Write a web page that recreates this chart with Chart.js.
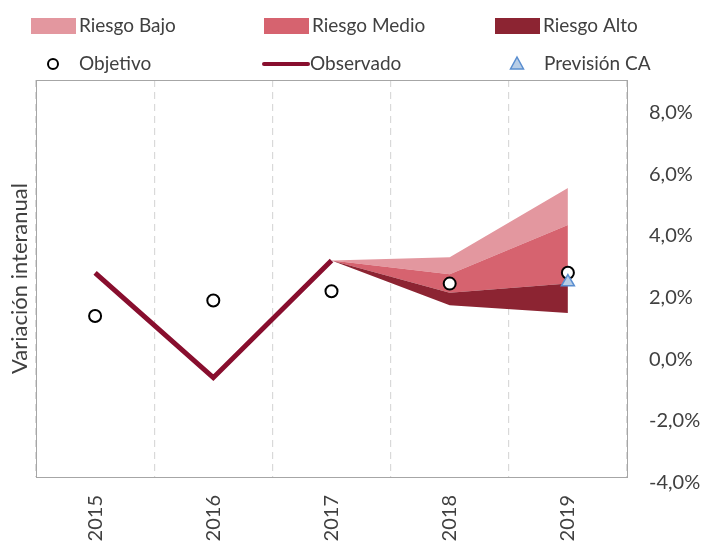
<!DOCTYPE html>
<html>
<head>
<meta charset="utf-8">
<script src="https://cdn.jsdelivr.net/npm/chart.js@4.4.1/dist/chart.umd.min.js"></script>
<style>
html,body{margin:0;padding:0;background:#fff;}
#wrap{width:706px;height:548px;position:relative;}
</style>
</head>
<body>
<div id="wrap"><canvas id="c" width="706" height="548"></canvas></div>
<script>
const years = ['2015','2016','2017','2018','2019'];
const yTicks = [-4, -2, 0, 2, 4, 6, 8];
const observado = [2.8, -0.6, 3.2, null, null];
const objetivo = [1.4, 1.9, 2.2, 2.45, 2.8];
const prevision = [null, null, null, null, 2.5];
const fanBottom = [null, null, 3.2, 1.75, 1.5];
const riesgoAltoTop = [null, null, 3.2, 2.15, 2.45];
const riesgoMedioTop = [null, null, 3.2, 2.75, 4.35];
const riesgoBajoTop = [null, null, 3.2, 3.3, 5.55];

const TXT = '#404040';
const FONT = 'Lato, "Open Sans", sans-serif';
const C_BAJO = '#E3979F';
const C_MEDIO = '#D6636F';
const C_ALTO = '#8C2432';
const C_OBS = '#880E2E';

const legendPlugin = {
  id: 'customLegend',
  afterDraw(chart) {
    const ctx = chart.ctx;
    ctx.save();
    ctx.font = '19px ' + FONT;
    ctx.fillStyle = TXT;
    ctx.textBaseline = 'middle';
    ctx.textAlign = 'left';
    const r1 = 26, r2 = 64;
    const boxes = [[31, C_BAJO, 'Riesgo Bajo'], [264, C_MEDIO, 'Riesgo Medio'], [495, C_ALTO, 'Riesgo Alto']];
    boxes.forEach(([x, col, t]) => {
      ctx.fillStyle = col;
      ctx.fillRect(x, r1 - 8, 45, 16);
      ctx.fillStyle = TXT;
      ctx.fillText(t, x + 48, r1);
    });
    // Objetivo
    ctx.beginPath();
    ctx.arc(53, r2, 5, 0, Math.PI * 2);
    ctx.fillStyle = '#fff'; ctx.fill();
    ctx.lineWidth = 2; ctx.strokeStyle = '#000'; ctx.stroke();
    ctx.fillStyle = TXT;
    ctx.fillText('Objetivo', 79, r2);
    // Observado
    ctx.beginPath();
    ctx.moveTo(264, r2); ctx.lineTo(308, r2);
    ctx.lineWidth = 4; ctx.strokeStyle = C_OBS; ctx.lineCap = 'round'; ctx.stroke();
    ctx.fillStyle = TXT;
    ctx.fillText('Observado', 310, r2);
    // Prevision
    ctx.beginPath();
    ctx.moveTo(517, r2 - 7); ctx.lineTo(523.5, r2 + 5); ctx.lineTo(510.5, r2 + 5); ctx.closePath();
    ctx.fillStyle = '#B7CDE6'; ctx.fill();
    ctx.lineWidth = 1.5; ctx.strokeStyle = '#5A8ED0'; ctx.lineCap = 'butt'; ctx.stroke();
    ctx.fillStyle = TXT;
    ctx.fillText('Previsión CA', 544, r2);
    ctx.restore();
  }
};

const boxPlugin = {
  id: 'plotBox',
  afterDatasetsDraw(chart) {
    const a = chart.chartArea, ctx = chart.ctx;
    ctx.save();
    ctx.strokeStyle = '#A6A6A6';
    ctx.lineWidth = 1;
    ctx.strokeRect(Math.round(a.left) + 0.5, Math.round(a.top) + 0.5, Math.round(a.right - a.left), Math.round(a.bottom - a.top));
    ctx.restore();
  }
};

const fanBase = { borderWidth: 0, borderColor: 'rgba(0,0,0,0)', pointRadius: 0, pointHoverRadius: 0, tension: 0, order: 10 };

new Chart(document.getElementById('c'), {
  type: 'line',
  data: {
    labels: years,
    datasets: [
      Object.assign({ label: 'fanBottom', data: fanBottom, fill: false }, fanBase),
      Object.assign({ label: 'Riesgo Alto', data: riesgoAltoTop, fill: '-1', backgroundColor: C_ALTO }, fanBase),
      Object.assign({ label: 'Riesgo Medio', data: riesgoMedioTop, fill: '-1', backgroundColor: C_MEDIO }, fanBase),
      Object.assign({ label: 'Riesgo Bajo', data: riesgoBajoTop, fill: '-1', backgroundColor: C_BAJO }, fanBase),
      { label: 'Observado', data: observado, borderColor: C_OBS, borderWidth: 5, pointRadius: 0, fill: false, tension: 0, order: 3, borderJoinStyle: 'miter' },
      { label: 'Objetivo', data: objetivo, showLine: false, pointStyle: 'circle', pointRadius: 6, pointBorderWidth: 2, pointBorderColor: '#000', pointBackgroundColor: '#fff', order: 2 },
      { label: 'Previsión CA', data: prevision, showLine: false, pointStyle: 'triangle', pointRadius: 7.5, pointBorderWidth: 1.5, pointBorderColor: '#5A8ED0', pointBackgroundColor: '#B7CDE6', order: 1 }
    ]
  },
  options: {
    responsive: false,
    animation: false,
    events: [],
    layout: { padding: { top: 80, left: 0, right: 0, bottom: 0 } },
    plugins: { legend: { display: false }, tooltip: { enabled: false } },
    scales: {
      x: {
        offset: true,
        grid: { display: true, offset: true, color: '#D9D9D9', lineWidth: 1.2, drawTicks: false },
        border: { display: false, dash: [7, 5] },
        ticks: { color: TXT, font: { family: FONT, size: 20 }, minRotation: 90, maxRotation: 90, padding: 18 },
        afterFit(s) { s.height = 71; }
      },
      y: {
        position: 'right',
        min: -3.82,
        max: 9.05,
        grid: { display: false },
        border: { display: false },
        ticks: {
          color: TXT, font: { family: FONT, size: 20 }, padding: 14, autoSkip: false,
          callback: v => v.toFixed(1).replace('.', ',') + '%'
        },
        afterBuildTicks(s) { s.ticks = yTicks.map(v => ({ value: v })); },
        afterFit(s) { s.width = 79; }
      },
      yLeft: {
        position: 'left',
        min: 0, max: 1,
        grid: { display: false },
        border: { display: false },
        ticks: { display: false },
        title: { display: true, text: 'Variación interanual', color: TXT, font: { family: FONT, size: 22 }, padding: { top: 7, bottom: 0 } },
        afterFit(s) { s.width = 36; }
      }
    }
  },
  plugins: [boxPlugin, legendPlugin]
});
</script>
</body>
</html>
